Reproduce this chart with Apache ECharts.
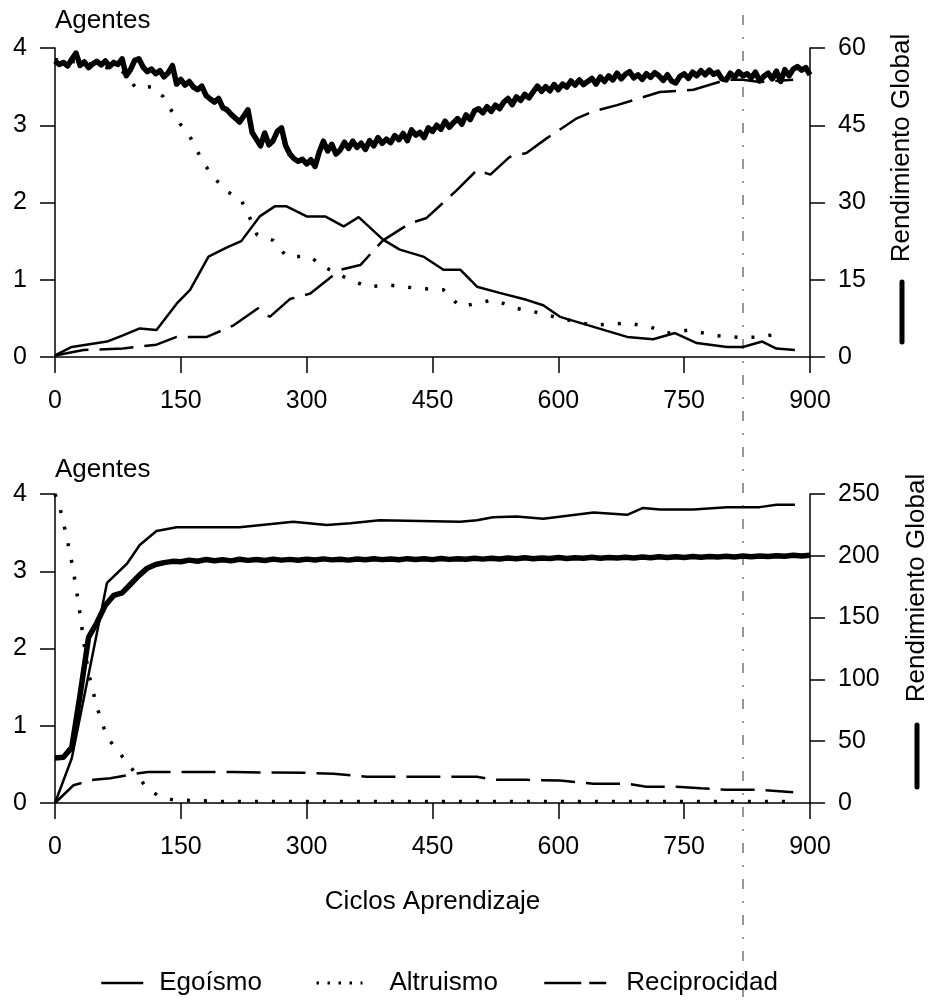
<!DOCTYPE html>
<html>
<head>
<meta charset="utf-8">
<script src="https://cdn.jsdelivr.net/npm/echarts@6/dist/echarts.min.js"></script>
<style>
html,body{margin:0;padding:0;background:#fff;}
#chart{width:933px;height:1006px;}
</style>
</head>
<body>
<div id="chart"></div>
<script>
// ---------- DATA ----------
const xTicks = [0, 150, 300, 450, 600, 750, 900];

// Top panel
const topEgoCycles = [0,20,62,81,101,121,145,161,183,205,222,244,262,276,300,322,344,362,391,411,439,463,483,495,503,530,562,582,602,642,682,713,739,765,801,820,843,860,882];
const topEgoValues = [0.02,0.13,0.2,0.28,0.37,0.35,0.69,0.87,1.30,1.42,1.5,1.82,1.95,1.95,1.82,1.82,1.69,1.81,1.52,1.39,1.30,1.13,1.13,1.0,0.91,0.83,0.74,0.67,0.52,0.39,0.26,0.23,0.31,0.18,0.13,0.13,0.2,0.11,0.09];

const topAltCycles = [0,40,80,97,117,129,137,149,161,169,177,189,205,221,229,241,260,276,304,320,344,372,399,431,463,483,523,550,578,602,642,682,709,730,757,785,820,840,870];
const topAltValues = [3.85,3.8,3.7,3.48,3.5,3.37,3.22,3.02,2.85,2.68,2.51,2.33,2.14,2.05,1.88,1.58,1.51,1.30,1.30,1.17,1.04,0.91,0.93,0.89,0.87,0.65,0.74,0.63,0.57,0.50,0.41,0.44,0.39,0.31,0.35,0.28,0.25,0.26,0.31];

const topRecCycles = [0,34,81,121,145,181,213,242,256,280,304,340,364,391,423,443,479,503,519,542,562,586,622,642,670,721,761,801,820,840,880];
const topRecValues = [0.02,0.09,0.11,0.16,0.26,0.26,0.41,0.63,0.52,0.75,0.82,1.13,1.19,1.51,1.73,1.80,2.16,2.42,2.36,2.59,2.64,2.83,3.09,3.18,3.26,3.43,3.46,3.59,3.59,3.56,3.59];

// Rendimiento Global (right axis, 0-60), sampled every 5 cycles
const topRendStep = 5;
const topRendValues = [
57.5,56.8,57.2,56.5,57.8,59.0,56.6,57.3,56.2,56.9,57.4,56.7,57.5,56.4,57.2,56.8,57.9,54.6,55.8,57.6,
57.9,56.3,55.4,55.9,55.0,55.6,54.4,55.2,56.6,53.0,53.9,52.8,53.5,52.4,51.9,52.6,50.8,50.1,49.5,50.2,
48.4,48.0,47.1,46.4,45.6,46.8,48.0,43.6,42.3,41.0,43.5,41.2,42.0,43.8,44.5,41.0,39.4,38.5,38.0,38.4,
37.5,38.3,37.0,39.8,41.9,40.0,41.3,39.4,40.2,41.7,40.5,41.9,40.7,41.5,40.3,42.0,41.0,42.6,41.5,42.3,
41.6,43.0,42.2,43.4,42.0,44.1,43.1,43.6,42.6,44.5,43.8,45.0,44.2,45.8,44.6,45.5,46.3,45.2,47.0,46.1,
47.8,48.2,47.4,48.6,47.7,48.9,48.2,49.5,50.2,49.0,50.5,49.8,51.0,50.3,51.5,52.6,51.6,52.5,51.7,52.9,
51.9,53.0,52.4,53.6,52.8,53.8,52.9,53.5,54.1,53.0,54.4,53.5,54.6,53.8,55.1,54.0,54.9,55.4,54.2,54.8,
53.9,55.0,54.3,55.2,54.6,53.7,54.8,53.6,53.2,54.5,55.0,54.1,55.3,54.6,55.6,54.8,55.7,54.9,55.3,54.0,
53.8,55.1,54.3,55.4,54.6,55.0,54.2,55.3,53.6,54.5,55.1,54.0,55.5,53.5,55.8,54.6,55.9,56.4,55.7,56.2,
54.8];

// Bottom panel
const botEgoCycles = [0,20,62,86,101,121,145,220,284,324,352,387,483,503,522,550,582,642,682,701,721,761,801,840,860,882];
const botEgoValues = [0,0.58,2.85,3.1,3.34,3.52,3.57,3.57,3.64,3.6,3.62,3.66,3.64,3.66,3.70,3.71,3.68,3.76,3.73,3.82,3.80,3.80,3.83,3.83,3.86,3.86];

const botAltCycles = [0,2,6,14,21,28,34,40,50,62,74,86,110,125,141,200,300,400,500,600,700,800,880];
const botAltValues = [4.0,3.99,3.82,3.44,3.06,2.59,2.11,1.68,1.24,0.85,0.69,0.52,0.19,0.08,0.04,0.02,0.02,0.02,0.02,0.02,0.02,0.02,0.02];

const botRecCycles = [0,22,46,66,97,111,213,300,332,372,483,503,522,562,602,642,682,705,741,770,801,840,880];
const botRecValues = [0,0.23,0.30,0.32,0.38,0.40,0.40,0.39,0.38,0.34,0.34,0.34,0.30,0.30,0.29,0.25,0.25,0.21,0.21,0.19,0.17,0.17,0.14];

// Rendimiento Global (right axis, 0-250), sampled every 10 cycles
const botRendStep = 10;
const botRendValues = [
36.5,37.0,45.0,88.0,134.0,146.0,160.0,168.0,170.0,177.0,184.0,190.0,193.0,194.5,195.5,195.2,196.5,195.6,197.0,196.0,
196.8,195.9,197.2,196.3,197.0,196.2,197.3,196.5,197.1,196.4,197.3,196.6,197.5,196.7,197.2,196.5,197.4,196.8,197.6,196.9,
197.5,196.8,197.7,197.0,197.6,196.9,197.8,197.1,197.7,197.2,198.0,197.3,198.1,197.4,198.2,197.6,198.4,197.7,198.3,197.9,
198.6,197.9,198.5,198.0,198.8,198.1,198.7,198.2,198.9,198.3,199.0,198.5,199.2,198.6,199.3,198.7,199.4,198.9,199.5,199.0,
199.6,199.1,199.8,199.2,199.9,199.4,200.1,199.6,200.4,199.8,200.5];

const seriesNames = ['Egoísmo', 'Altruismo', 'Reciprocidad'];
const rendName = 'Rendimiento Global';
const leftName = 'Agentes';
const xName = 'Ciclos Aprendizaje';

// ---------- CHART ----------
function pairs(xs, ys){ return xs.map((x,i)=>[x, ys[i]]); }
function stepPairs(step, ys){ return ys.map((y,i)=>[i*step, y]); }

const FONT = 'Liberation Sans';
const ink = '#000';

function xAxisCfg(grid, withName){
  return {
    type:'value', gridIndex:grid, min:0, max:900, interval:150,
    name: withName ? xName : '', nameLocation:'middle', nameGap:86,
    nameTextStyle:{fontFamily:FONT, fontSize:26, color:ink},
    axisLine:{show:true, onZero:false, lineStyle:{color:ink, width:1.5}},
    axisTick:{show:true, length:16, lineStyle:{color:ink, width:1.5}},
    axisLabel:{fontFamily:FONT, fontSize:25, color:ink, margin:32, showMinLabel:true, showMaxLabel:true},
    splitLine:{show:false}
  };
}
function yAxisCfg(grid, pos, max, interval, name, nameGap){
  return {
    type:'value', gridIndex:grid, position:pos, min:0, max:max, interval:interval,
    name: name || '', nameLocation:'end', nameGap: nameGap || 14,
    nameTextStyle:{fontFamily:FONT, fontSize:26, color:ink, align:'left', verticalAlign:'bottom'},
    axisLine:{show:true, lineStyle:{color:ink, width:1.5}},
    axisTick:{show:true, length:15, lineStyle:{color:ink, width:1.5}},
    axisLabel:{fontFamily:FONT, fontSize:25, color:ink, margin:28},
    splitLine:{show:false}
  };
}

const solid = {color:ink, width:2.5, type:'solid'};
const dotted = {color:ink, width:3.5, type:[3,14]};
const dashed = {color:ink, width:2.5, type:[34,11]};
const hidden = {color:'rgba(0,0,0,0)', borderColor:'rgba(0,0,0,0)', borderWidth:0, opacity:0};

function line(name, xi, yi, data, style, z){
  return {name:name, type:'line', xAxisIndex:xi, yAxisIndex:yi, data:data,
    symbol:'none', smooth:false, lineStyle:style, itemStyle:{color:ink}, silent:true, z:z||2, animation:false};
}
function legendCfg(name, left, width, textPad, ls){
  return {
    left:left, top:970, padding:0, itemWidth:width, itemHeight:14, itemTextGap:5, selectedMode:false,
    textStyle:{fontFamily:FONT, fontSize:26, color:ink, padding:[0,0,0,textPad]},
    data:[{name:name, lineStyle:ls, itemStyle:hidden}]
  };
}

const chart = echarts.init(document.getElementById('chart'), null, {renderer:'canvas'});
chart.setOption({
  backgroundColor:'#fff',
  animation:false,
  textStyle:{fontFamily:FONT},
  grid:[
    {left:55, right:123, top:48, height:309},
    {left:55, right:123, top:494, height:309}
  ],
  xAxis:[ xAxisCfg(0,false), xAxisCfg(1,true) ],
  yAxis:[
    yAxisCfg(0,'left',4,1,leftName,14),
    yAxisCfg(0,'right',60,15),
    yAxisCfg(1,'left',4,1,leftName,11),
    yAxisCfg(1,'right',250,50)
  ],
  legend:[
    legendCfg(seriesNames[0], 100, 42, 11, {color:ink, width:2.5, type:'solid'}),
    legendCfg(seriesNames[1], 315, 46, 22, {color:ink, width:3, type:[2.5,8.5]}),
    legendCfg(seriesNames[2], 543, 62, 15, {color:ink, width:2.5, type:[37,8]})
  ],
  graphic:[
    {type:'text', x:902, y:148, rotation:Math.PI/2,
      style:{text:rendName, font:'26px "Liberation Sans"', fill:ink, align:'center', verticalAlign:'middle', textAlign:'center', textVerticalAlign:'middle'}},
    {type:'line', shape:{x1:902, y1:282, x2:902, y2:342}, style:{stroke:ink, lineWidth:5, lineCap:'round'}},
    {type:'text', x:917, y:588, rotation:Math.PI/2,
      style:{text:rendName, font:'26px "Liberation Sans"', fill:ink, align:'center', verticalAlign:'middle', textAlign:'center', textVerticalAlign:'middle'}},
    {type:'line', shape:{x1:917, y1:725, x2:917, y2:787}, style:{stroke:ink, lineWidth:5, lineCap:'round'}},
    {type:'line', shape:{x1:743, y1:15, x2:743, y2:1006}, style:{stroke:'#333', lineWidth:1, lineDash:[10,12,2,12]}, z:0}
  ],
  series:[
    line(seriesNames[0],0,0,pairs(topEgoCycles, topEgoValues), solid),
    line(seriesNames[1],0,0,pairs(topAltCycles, topAltValues), dotted),
    line(seriesNames[2],0,0,pairs(topRecCycles, topRecValues), dashed),
    line(rendName,0,1,stepPairs(topRendStep, topRendValues), {color:ink, width:5.5, join:'round'}, 3),
    line(seriesNames[0],1,2,pairs(botEgoCycles, botEgoValues), solid),
    line(seriesNames[1],1,2,pairs(botAltCycles, botAltValues), dotted),
    line(seriesNames[2],1,2,pairs(botRecCycles, botRecValues), dashed),
    line(rendName,1,3,stepPairs(botRendStep, botRendValues), {color:ink, width:5.5, join:'round'}, 3)
  ]
});
</script>
</body>
</html>
